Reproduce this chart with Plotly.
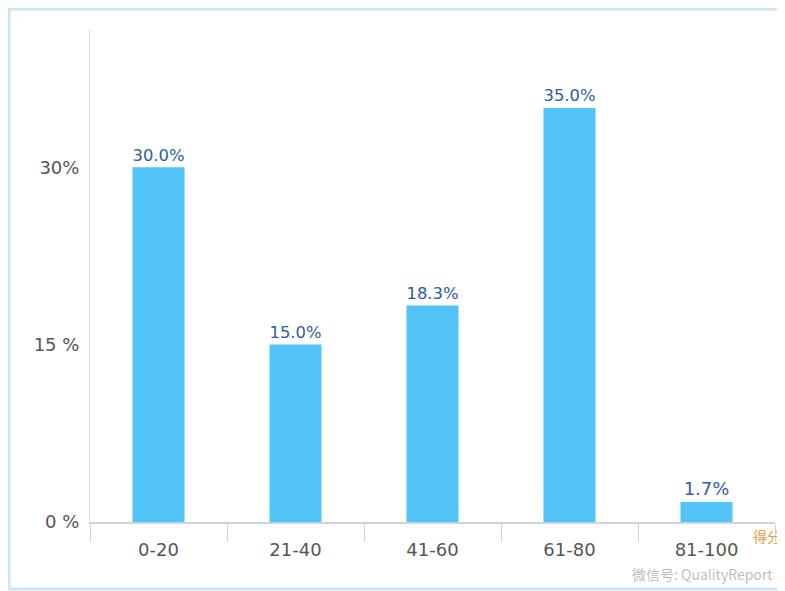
import plotly.graph_objects as go

categories = ["0-20", "21-40", "41-60", "61-80", "81-100"]
values = [30.0, 15.0, 18.3, 35.0, 1.7]
labels = ["30.0%", "15.0%", "18.3%", "35.0%", "1.7%"]
ytick_vals = [0, 15, 30]
ytick_text = ["0 %", "15 %", "30%"]

# page body has 8px margin; figure coordinates are shifted by 8px
W, H = 777, 583
L, R, T, B = 82, 10, 22, 69
PW, PH = W - L - R, H - T - B

def px(x):  # figure pixel x -> paper
    return (x - L) / PW

def py(y):  # figure pixel y -> paper
    return (H - B - y) / PH

fig = go.Figure()
fig.add_trace(go.Bar(
    x=categories, y=values, text=labels, textposition="outside",
    textfont=dict(color="#2d5ca6", size=18, family="DejaVu Sans"),
    marker=dict(color="#52c4f8", line=dict(width=0)),
    width=0.38, cliponaxis=False,
))

fig.update_layout(
    width=W, height=H,
    margin=dict(l=L, r=R, t=T, b=B),
    paper_bgcolor="#f4f5f6",
    plot_bgcolor="rgba(0,0,0,0)",
    showlegend=False,
    font=dict(family="DejaVu Sans", color="#555555", size=18),
    shapes=[
        dict(type="rect", xref="paper", yref="paper",
             x0=px(1), x1=px(W + 20), y0=py(H - 2), y1=py(1),
             line=dict(color="#cde4f4", width=3), fillcolor="white", layer="below"),
    ],
    annotations=[
        dict(text="得分", xref="paper", yref="paper", x=px(743), y=py(528),
             xanchor="left", yanchor="middle", showarrow=False,
             font=dict(color="#f39a3c", size=14, family="Noto Sans CJK SC")),
        dict(text="微信号: QualityReport", xref="paper", yref="paper",
             x=px(767), y=py(566), xanchor="right", yanchor="middle", showarrow=False,
             font=dict(color="rgba(120,120,120,0.5)", size=14, family="Noto Sans CJK SC")),
    ],
)

fig.update_xaxes(
    type="category", range=[-0.5, 4.5],
    showline=True, linecolor="#d0d4d8", linewidth=2,
    ticks="outside", tickson="boundaries", ticklen=18, tickcolor="#d0d4d8", tickwidth=1,
    showgrid=False, ticklabelstandoff=10, tickfont=dict(size=18, color="#555555"),
)
fig.update_yaxes(
    range=[0, 41.6], tickvals=ytick_vals, ticktext=ytick_text,
    showline=True, linecolor="#d8dce0", linewidth=1,
    showgrid=False, zeroline=False, ticks="", ticklabelstandoff=6,
    tickfont=dict(size=18, color="#555555"),
)

fig.write_html("out.html")
